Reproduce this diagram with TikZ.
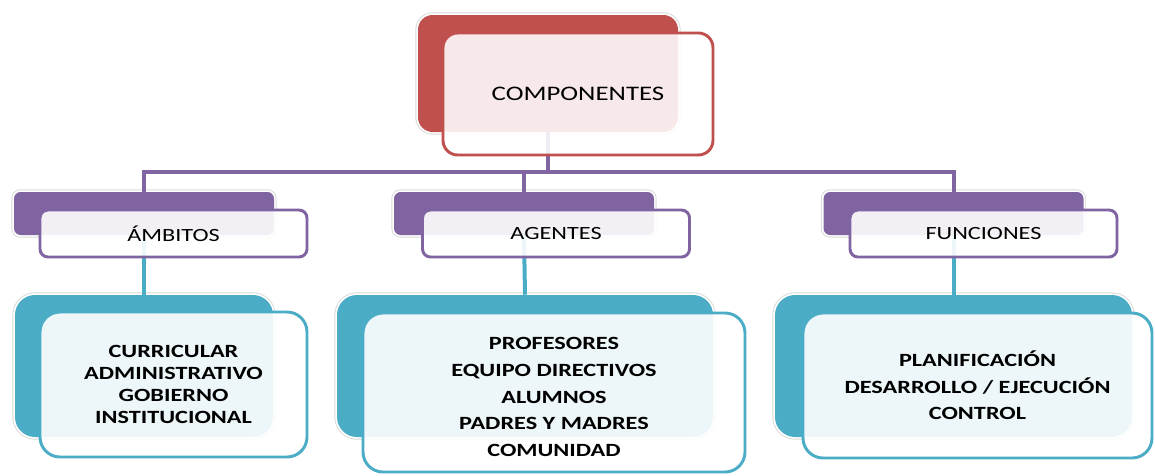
\documentclass[tikz,border=0pt]{standalone}
\usepackage{fontspec}
\setmainfont{Carlito}[FakeStretch=1.3]
\definecolor{cred}{HTML}{C0504D}
\definecolor{cpurple}{HTML}{8064A2}
\definecolor{cblue}{HTML}{4BACC6}
\tikzset{
    halo/.style = {preaction={draw=black!15,line width=4pt}, preaction={draw=white,line width=2.6pt}},
    backr/.style = {rectangle, halo, rounded corners=11pt, fill=cred, inner sep=0pt, minimum width=195pt, minimum height=87.75pt},
    frontr/.style = {rectangle, rounded corners=11pt, draw=cred, line width=2.2pt, fill=white, fill opacity=0.88, text opacity=1, inner sep=0pt, minimum width=202.5pt, minimum height=91.5pt, font=\fontsize{15.5}{18}\selectfont},
    backp/.style = {rectangle, halo, rounded corners=5pt, fill=cpurple, inner sep=0pt, minimum width=195pt, minimum height=32.25pt},
    frontp/.style = {rectangle, rounded corners=6pt, draw=cpurple, line width=2.2pt, fill=white, fill opacity=0.9, text opacity=1, inner sep=0pt, minimum width=200.25pt, minimum height=35.25pt, font=\fontsize{14}{17}\selectfont},
    backb/.style = {rectangle, halo, rounded corners=15pt, fill=cblue, inner sep=0pt, minimum height=106.5pt},
    frontb/.style = {rectangle, rounded corners=15pt, draw=cblue, line width=2.2pt, fill=white, fill opacity=0.9, text opacity=1, inner sep=0pt, align=center, font=\bfseries\fontsize{14}{20}\selectfont},
    bus/.style = {line width=3pt, cpurple},
    drop/.style = {line width=3pt, cblue}
}

\begin{document}
\begin{tikzpicture}[x=0.75pt, y=-0.75pt]
\useasboundingbox (0,0) rectangle (1155,475);
% back boxes
\node[backr] at (548, 73.5) (compb) {};
\node[backp] at (144, 213.5) (ambb) {};
\node[backp] at (524, 213.5) (ageb) {};
\node[backp] at (953.5, 213.5) (funb) {};
\node[backb, minimum width=193.5pt] at (144, 366) (lstb) {};
\node[backb, minimum width=282pt] at (525, 366) (mstb) {};
\node[backb, minimum width=267.75pt] at (953.5, 366) (rstb) {};
%
\coordinate (bus) at (548, 172);
\draw[bus] (compb.south) -- (bus);
\draw[bus] (bus) -| (ambb.north);
\draw[bus] (bus) -| (funb.north);
\draw[bus] (bus) -| (ageb.north);
\draw[drop] (ambb.south) -- (lstb.north);
\draw[drop] (ageb.south) -- (mstb.north);
\draw[drop] (funb.south) -- (rstb.north);
% front boxes
\node[frontr] at (578, 94) (comp) {COMPONENTES};
\node[frontp] at (173.5, 233.5) (amb) {ÁMBITOS};
\node[frontp] at (556, 233.5) (age) {AGENTES};
\node[frontp] at (983.5, 233.5) (fun) {FUNCIONES};
\node[frontb, minimum width=200.25pt, minimum height=108.75pt, font=\bfseries\fontsize{14}{16.5}\selectfont] at (173.5, 384.5) (lst)
    {CURRICULAR\\ADMINISTRATIVO\\GOBIERNO\\INSTITUCIONAL};
\node[frontb, minimum width=286.5pt, minimum height=119.25pt] at (554, 392.5) (mst)
    {\\[-4pt]PROFESORES\\EQUIPO DIRECTIVOS\\ALUMNOS\\PADRES Y MADRES\\COMUNIDAD};
\node[frontb, minimum width=261.75pt, minimum height=108.75pt] at (977.5, 385.5) (rst)
    {PLANIFICACIÓN\\DESARROLLO / EJECUCIÓN\\CONTROL};
\end{tikzpicture}
\end{document}
